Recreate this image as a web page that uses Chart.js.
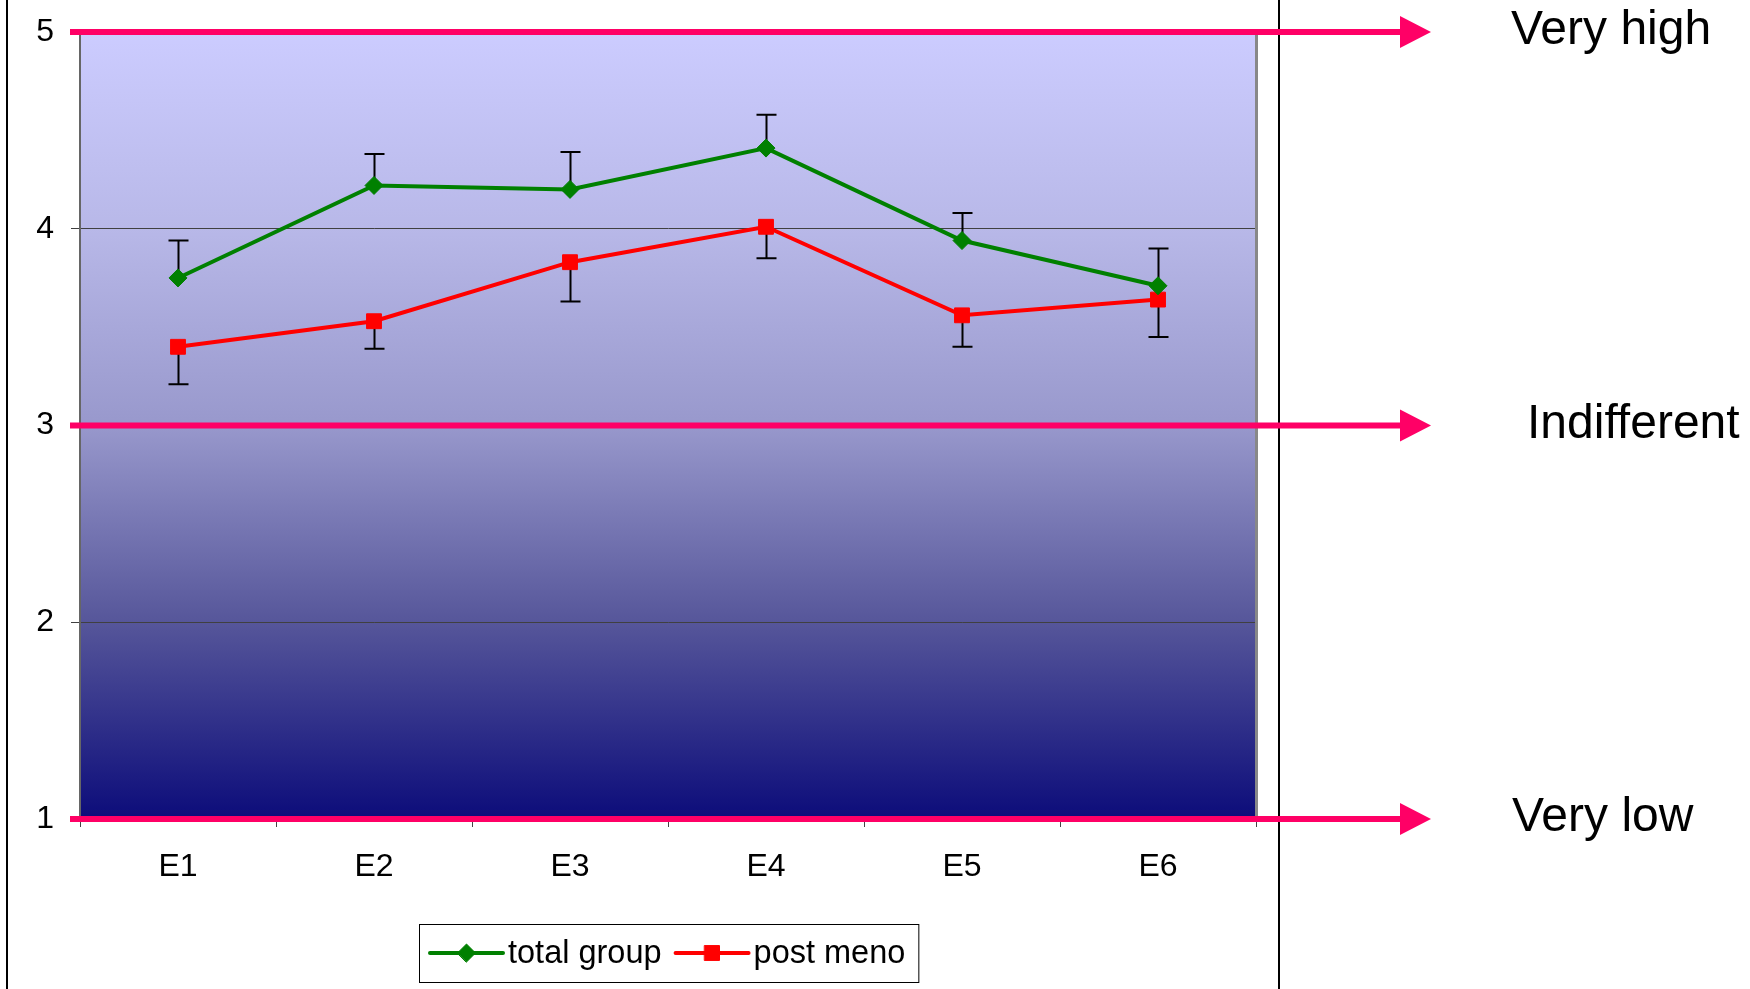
<html>

<head>
    <title>Ratings</title>
    <script src="https://cdn.jsdelivr.net/npm/chart.js@4"></script>
    <style>
        body { margin: 0; background: #fff; }
        #wrap { width: 1750px; height: 989px; }
    </style>
</head>

<body>
    <div id="wrap"><canvas id="plotCanvas"></canvas></div>

    <script>
        const categories = ['E1', 'E2', 'E3', 'E4', 'E5', 'E6']
        const totalGroup = [3.75, 4.22, 4.20, 4.41, 3.94, 3.71]
        const postMeno = [3.40, 3.53, 3.83, 4.01, 3.56, 3.64]
        // plus error on total group, minus error on post meno
        const totalErr = [0.19, 0.16, 0.19, 0.17, 0.14, 0.19]
        const postErr = [0.19, 0.14, 0.20, 0.16, 0.16, 0.19]
        const levelValues = [5, 3, 1]
        const levelLabels = ['Very high', 'Indifferent', 'Very low']
        const yMin = 1, yMax = 5, yStep = 1

        const pink = '#FF0066'
        const font = 'Arial, "Liberation Sans", sans-serif'

        const decor = {
            id: 'decor',
            beforeDraw(chart) {
                const { ctx, chartArea: a } = chart
                ctx.save()
                ctx.fillStyle = '#fff'
                ctx.fillRect(0, 0, chart.width, chart.height)
                const g = ctx.createLinearGradient(0, a.top, 0, a.bottom)
                g.addColorStop(0, '#CCCCFF')
                g.addColorStop(0.25, '#B8B8E8')
                g.addColorStop(0.5, '#9898CC')
                g.addColorStop(0.75, '#56569A')
                g.addColorStop(1, '#0C0C7A')
                ctx.fillStyle = g
                ctx.fillRect(a.left, a.top, a.right - a.left, a.bottom - a.top)
                ctx.restore()
            },
            beforeDatasetsDraw(chart) {
                const { ctx } = chart
                const x = chart.scales.x, y = chart.scales.y
                const cap = 10
                ctx.save()
                ctx.strokeStyle = '#000'
                ctx.lineWidth = 2
                const bar = (i, from, to) => {
                    const px = Math.round(x.getPixelForValue(i)) + 0.5
                    const y0 = y.getPixelForValue(from), y1 = y.getPixelForValue(to)
                    ctx.beginPath()
                    ctx.moveTo(px, y0)
                    ctx.lineTo(px, y1)
                    ctx.moveTo(px - cap, y1)
                    ctx.lineTo(px + cap, y1)
                    ctx.stroke()
                }
                totalGroup.forEach((v, i) => bar(i, v, v + totalErr[i]))
                postMeno.forEach((v, i) => bar(i, v, v - postErr[i]))
                ctx.restore()
            },
            afterDraw(chart) {
                const { ctx, chartArea: a } = chart
                const y = chart.scales.y
                ctx.save()

                // plot right border and outer frame
                ctx.fillStyle = '#888'
                ctx.fillRect(a.right - 1, a.top, 3, a.bottom - a.top)
                ctx.fillStyle = '#000'
                ctx.fillRect(6, 0, 2, chart.height)
                ctx.fillRect(a.right + 22, 0, 2, chart.height)

                // level arrows and labels
                const xs = a.left - 10, xe = a.right + 144, tip = a.right + 175
                const labelDx = [0, 16, 1]
                levelValues.forEach((v, i) => {
                    const py = y.getPixelForValue(v)
                    ctx.fillStyle = pink
                    ctx.fillRect(xs, py - 3, xe - xs, 6)
                    ctx.beginPath()
                    ctx.moveTo(xe, py - 16)
                    ctx.lineTo(tip, py)
                    ctx.lineTo(xe, py + 16)
                    ctx.closePath()
                    ctx.fill()
                    ctx.fillStyle = '#000'
                    ctx.font = '48px ' + font
                    ctx.textBaseline = 'alphabetic'
                    ctx.textAlign = 'left'
                    ctx.fillText(levelLabels[i], a.right + 255 + labelDx[i], py + 12)
                })

                // legend
                const bx = a.left + 339, by = 924, bh = 58
                const cy = by + bh / 2
                ctx.font = '32.5px ' + font
                ctx.textBaseline = 'middle'
                let cx = bx + 11
                const items = chart.data.datasets
                const pos = []
                items.forEach(ds => {
                    pos.push(cx)
                    cx += 78 + ctx.measureText(ds.label).width + 14
                })
                cx -= 1
                ctx.fillStyle = '#fff'
                ctx.fillRect(bx, by, cx - bx, bh)
                ctx.strokeStyle = '#000'
                ctx.lineWidth = 1
                ctx.strokeRect(bx + 0.5, by + 0.5, cx - bx, bh)
                items.forEach((ds, i) => {
                    const x0 = pos[i]
                    ctx.strokeStyle = ds.borderColor
                    ctx.lineWidth = 4
                    ctx.lineCap = 'round'
                    ctx.beginPath()
                    ctx.moveTo(x0, cy)
                    ctx.lineTo(x0 + 73, cy)
                    ctx.stroke()
                    ctx.fillStyle = ds.borderColor
                    ctx.lineWidth = 1
                    Chart.helpers.drawPoint(ctx, {
                        pointStyle: ds.pointStyle, rotation: 0,
                        radius: ds.pointRadius, borderWidth: 1
                    }, x0 + 36.5, cy)
                    ctx.fillStyle = '#000'
                    ctx.fillText(ds.label, x0 + 78, cy + 1)
                })
                ctx.restore()
            },
        }

        const chart = new Chart(document.getElementById('plotCanvas'), {
            type: 'line',
            data: {
                labels: categories,
                datasets: [
                    {
                        label: 'total group',
                        data: totalGroup,
                        borderColor: '#008000',
                        backgroundColor: '#008000',
                        pointBackgroundColor: '#008000',
                        pointBorderColor: '#008000',
                        borderWidth: 4,
                        pointStyle: 'rectRot',
                        pointRadius: 9,
                        pointBorderWidth: 1,
                        tension: 0,
                    },
                    {
                        label: 'post meno',
                        data: postMeno,
                        borderColor: '#FF0000',
                        backgroundColor: '#FF0000',
                        pointBackgroundColor: '#FF0000',
                        pointBorderColor: '#FF0000',
                        borderWidth: 4,
                        pointStyle: 'rect',
                        pointRadius: 10.5,
                        pointBorderWidth: 1,
                        tension: 0,
                    },
                ],
            },
            options: {
                responsive: true,
                maintainAspectRatio: false,
                animation: false,
                layout: { padding: { left: 0, top: 32, right: 494, bottom: 0 } },
                plugins: {
                    legend: { display: false },
                    tooltip: { enabled: false },
                },
                scales: {
                    x: {
                        offset: true,
                        grid: {
                            offset: true,
                            drawOnChartArea: false,
                            tickLength: 8,
                            color: '#444',
                        },
                        border: { display: false },
                        ticks: {
                            color: '#000',
                            font: { size: 32, family: font },
                            padding: 21,
                        },
                        afterFit: s => {
                            s.height = 170
                            s.paddingLeft = 0
                            s.paddingRight = 0
                        },
                    },
                    y: {
                        min: yMin,
                        max: yMax,
                        grid: { color: '#404040', tickLength: 9 },
                        border: { display: true, color: '#666', width: 2 },
                        ticks: {
                            stepSize: yStep,
                            color: '#000',
                            font: { size: 32, family: font },
                            padding: 17,
                        },
                        afterFit: s => {
                            s.width = 80
                            s.paddingTop = 0
                            s.paddingBottom = 0
                        },
                    },
                },
            },
            plugins: [decor],
        })
    </script>
</body>

</html>
